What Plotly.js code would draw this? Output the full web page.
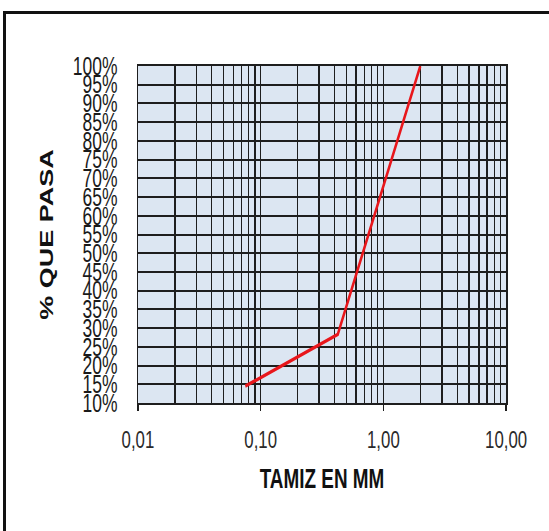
<!DOCTYPE html>
<html>
<head>
<meta charset="utf-8">
<script src="https://cdn.plot.ly/plotly-3.0.1.min.js"></script>
<style>
  html, body { margin: 0; padding: 0; background: #fff; }
  #wrap { position: relative; width: 549px; height: 531px; overflow: hidden; background: #fff; }
  #chart { position: absolute; left: 0; top: 0; width: 784px; height: 531px; transform: scaleX(0.7); transform-origin: 0 0; }
  .bt { position: absolute; left: 3px; top: 11px; width: 546px; height: 3px; background: #111; }
  .bl { position: absolute; left: 3px; top: 11px; width: 3px; height: 520px; background: #111; }
</style>
</head>
<body>
<div id="wrap">
  <div id="chart"></div>
  <div class="bt"></div>
  <div class="bl"></div>
</div>
<script>
// Sieve opening (mm) and percent passing
const sieveMM = [2.0, 0.425, 0.075];
const percentPassing = [100, 28.3, 14.5];

// Axis ticks
const xTickVals = [0.01, 0.1, 1, 10];
const xTickText = ["0,01", "0,10", "1,00", "10,00"];
const xMinorVals = [0.02, 0.03, 0.04, 0.05, 0.06, 0.07, 0.08, 0.09,
                    0.2, 0.3, 0.4, 0.5, 0.6, 0.7, 0.8, 0.9,
                    2, 3, 4, 5, 6, 7, 8, 9];
const yTickVals = [10, 15, 20, 25, 30, 35, 40, 45, 50, 55, 60, 65, 70, 75, 80, 85, 90, 95, 100];
const yTickText = yTickVals.map(v => v + "%");

const gridCol = "#1e1e1e";

const trace = {
  x: sieveMM,
  y: percentPassing,
  type: "scatter",
  mode: "lines",
  line: { color: "#e8161b", width: 3.5 },
  hoverinfo: "skip"
};

const layout = {
  width: 784,
  height: 531,
  margin: { l: 197, r: 61, t: 66, b: 128 },
  paper_bgcolor: "rgba(0,0,0,0)",
  plot_bgcolor: "#dce6f2",
  showlegend: false,
  font: { family: "Liberation Sans, Arial, sans-serif", color: "#222" },
  xaxis: {
    type: "log",
    range: [-2, 1],
    tickmode: "array",
    tickvals: xTickVals,
    ticktext: xTickText,
    ticks: "outside",
    ticklen: 6,
    tickwidth: 2,
    tickcolor: "#1e1e1e",
    ticklabelstandoff: 8,
    tickfont: { size: 24, color: "#2a2a2a" },
    showgrid: true,
    gridcolor: gridCol,
    gridwidth: 2,
    minor: { tickmode: "array", tickvals: xMinorVals, showgrid: true, gridcolor: gridCol, gridwidth: 2, ticks: "" },
    showline: true,
    linecolor: "#1e1e1e",
    linewidth: 2,
    mirror: true,
    zeroline: false,
    fixedrange: true,
    title: { text: "<b>TAMIZ EN MM</b>", font: { size: 27, color: "#111" }, standoff: 17 }
  },
  yaxis: {
    range: [10, 100],
    tickmode: "array",
    tickvals: yTickVals,
    ticktext: yTickText,
    ticks: "",
    ticklabelstandoff: 22,
    tickfont: { size: 25, color: "#1a1a1a" },
    showgrid: true,
    gridcolor: gridCol,
    gridwidth: 2,
    showline: true,
    linecolor: "#1e1e1e",
    linewidth: 2,
    mirror: true,
    zeroline: false,
    fixedrange: true,
    title: { text: "<b>% QUE PASA</b>", font: { size: 27, color: "#111" }, standoff: 20 }
  }
};

Plotly.newPlot("chart", [trace], layout, { displayModeBar: false, staticPlot: true });
</script>
</body>
</html>
